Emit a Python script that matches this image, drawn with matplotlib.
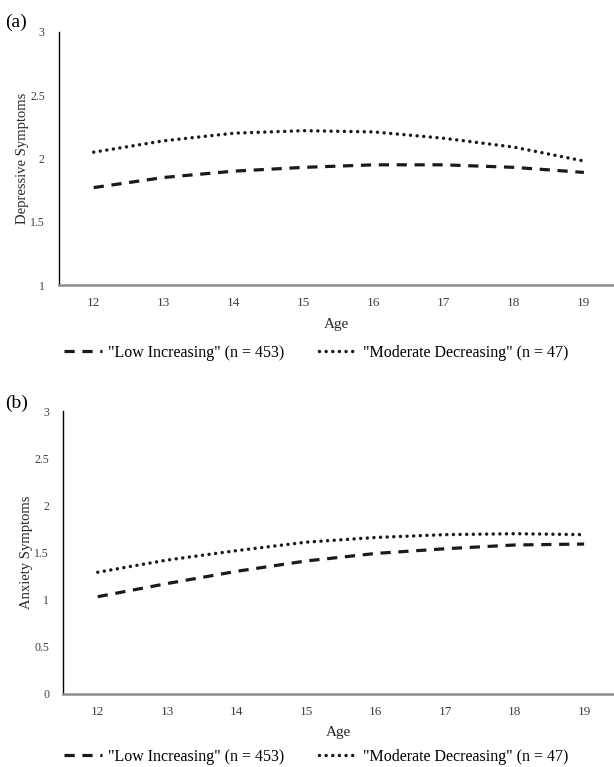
# Trajectories of depressive and anxiety symptoms by age

import matplotlib
matplotlib.use('Agg')
import matplotlib.pyplot as plt

# data
ages = [12, 13, 14, 15, 16, 17, 18, 19]
dep_low_inc = [1.77, 1.85, 1.90, 1.93, 1.95, 1.95, 1.93, 1.89]
dep_mod_dec = [2.05, 2.14, 2.20, 2.22, 2.21, 2.16, 2.09, 1.98]
anx_low_inc = [1.03, 1.17, 1.30, 1.41, 1.49, 1.54, 1.58, 1.59]
anx_mod_dec = [1.29, 1.42, 1.52, 1.61, 1.66, 1.69, 1.70, 1.69]
label_low = '"Low Increasing" (n = 453)'
label_mod = '"Moderate Decreasing" (n = 47)'

plt.rcParams['font.family'] = ['Liberation Serif', 'DejaVu Serif']

W, H = 614, 767
fig = plt.figure(figsize=(W / 100, H / 100), dpi=100)


def px_axes(left, top, bottom):
    return fig.add_axes([left / W, 1 - bottom / H, 1 - left / W, (bottom - top) / H])


def style_panel(ax, low, mod, ylim, yticks, ylabel, leg_y):
    ax.plot(ages, low, color='#1a1a1a', lw=2.3, linestyle=(0, (3.2, 2.4)),
            dash_capstyle='butt', label=label_low)
    ax.plot(ages, mod, color='#1a1a1a', lw=2.5, linestyle=(0, (0.01, 1.9)),
            dash_capstyle='round', label=label_mod)
    ax.set_xlim(11.5, 19.43)
    ax.set_ylim(*ylim)
    ax.set_xticks(ages)
    ax.set_yticks(yticks)
    ax.set_yticklabels([f'{t:g}' for t in yticks])
    ax.tick_params(axis='x', length=0, labelsize=9.5, pad=9, colors='#404040')
    ax.tick_params(axis='y', length=0, labelsize=8.5, pad=10, colors='#404040')
    for s in ['top', 'right']:
        ax.spines[s].set_visible(False)
    ax.spines['left'].set_linewidth(1.0)
    ax.spines['left'].set_color('black')
    ax.spines['bottom'].set_linewidth(1.8)
    ax.spines['bottom'].set_color('#8c8c8c')
    ax.set_xlabel('Age', fontsize=11, labelpad=6, color='#262626')
    ax.set_ylabel(ylabel, fontsize=10.5, labelpad=1, color='#262626')
    fig.legend(*ax.get_legend_handles_labels(), loc='center',
               bbox_to_anchor=(0.515, leg_y), ncol=2, frameon=False,
               fontsize=11.5, handlelength=2.4, columnspacing=2.2,
               handletextpad=0.35)


# panel (a)
ax1 = px_axes(58.7, 32, 285)
style_panel(ax1, dep_low_inc, dep_mod_dec, (1, 3), [1, 1.5, 2, 2.5, 3],
            'Depressive Symptoms', 1 - 353 / H)
fig.text(5 / W, 1 - 22 / H, '(a)', fontsize=14, va='center', ha='left')

# panel (b)
ax2 = px_axes(63, 411.5, 693.5)
style_panel(ax2, anx_low_inc, anx_mod_dec, (0, 3), [0, 0.5, 1, 1.5, 2, 2.5, 3],
            'Anxiety Symptoms', 1 - 757 / H)
fig.text(5 / W, 1 - 403 / H, '(b)', fontsize=14, va='center', ha='left')

fig.savefig('out.png', dpi=100)
